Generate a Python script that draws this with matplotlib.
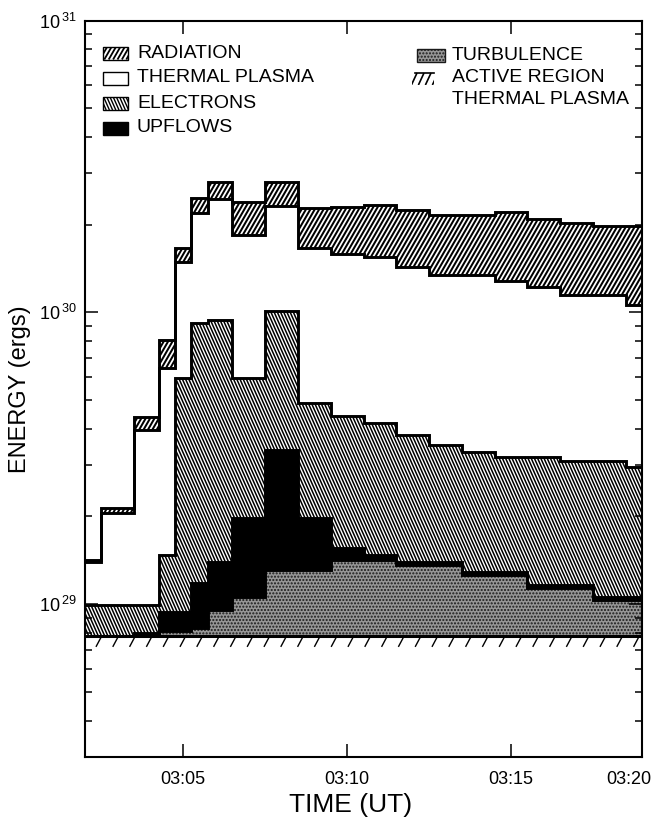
import numpy as np
import matplotlib
matplotlib.use("Agg")
import matplotlib.pyplot as plt
from matplotlib.collections import LineCollection
from matplotlib.patches import Rectangle
from matplotlib.transforms import IdentityTransform, ScaledTranslation
from matplotlib.ticker import LogLocator, NullFormatter, NullLocator, FuncFormatter

plt.rcParams["font.family"] = ["Liberation Sans", "DejaVu Sans"]
plt.rcParams["mathtext.fontset"] = "custom"
plt.rcParams["mathtext.rm"] = "Liberation Sans"

# time bin edges, minutes after 03:00 UT
edges = [2.0, 2.5, 3.5, 4.25, 4.75, 5.25, 5.75, 6.5, 7.5, 8.5, 9.5,
         10.5, 11.5, 12.5, 13.5, 14.5, 15.5, 16.5, 17.5, 18.5, 19.0]
# energies in units of 1e28 erg
active = 7.8
turbulence = [0, 0, 0, 0.28, 0.3, 0.5, 1.74, 2.77, 5.28, 5.28, 6.35, 6.35,
              5.8, 5.8, 4.77, 4.77, 3.55, 3.55, 2.52, 2.52]
upflows = [0, 0, 0.2, 1.31, 1.29, 3.5, 4.39, 9.15, 20.65, 6.64, 1.41, 0.58,
           0.33, 0.33, 0.31, 0.31, 0.27, 0.27, 0.25, 0.25]
electrons = [2.12, 2.12, 1.92, 5.34, 50.2, 80.2, 80.3, 39.9, 67.3, 29.3, 28.6,
             27.1, 24.1, 21.2, 20.3, 19.0, 20.3, 19.3, 20.3, 18.9]
thermal = [4.0, 10.6, 29.6, 49.8, 89.4, 127, 150.8, 124.4, 131, 117, 114.8,
           113.2, 105, 99.5, 101.4, 96.1, 90.1, 83.9, 83.9, 76.5]
radiation = [0.3, 0.8, 4.3, 16, 17, 28, 35, 54, 48, 62, 71, 79, 82, 81.4,
             81.4, 93, 87, 88.2, 83.2, 92]
tick_times = [5, 10, 15, 19]
tick_labels = ["03:05", "03:10", "03:15", "03:20"]

unit = 1e28
n = len(turbulence)
base = np.full(n, active) * unit
t1 = base + np.array(turbulence) * unit
t2 = t1 + np.array(upflows) * unit
t3 = t2 + np.array(electrons) * unit
t4 = t3 + np.array(thermal) * unit
t5 = t4 + np.array(radiation) * unit

W, H = 656, 825
fig = plt.figure(figsize=(W / 100, H / 100), dpi=100)
ax = fig.add_axes([85 / W, 1 - 757 / H, (642 - 85) / W, (757 - 20.5) / H])
ax.set_yscale("log")
ax.set_xlim(2, 19)
ax.set_ylim(3e28, 1e31)


def hatch(clip, box, angle, spacing, lw, where=None):
    x0, y0, x1, y1 = box
    d = (y1 - y0) / np.tan(np.radians(abs(angle)))
    xs = np.arange(x0 - d - spacing, x1 + spacing, spacing)
    if angle > 0:
        segs = [[(x, y0), (x + d, y1)] for x in xs]
    else:
        segs = [[(x, y1), (x + d, y0)] for x in xs]
    lc = LineCollection(segs, colors="k", linewidths=lw,
                        transform=IdentityTransform(), zorder=2 if where is None else 6)
    lc.set_clip_path(clip)
    if where is None:
        ax.add_collection(lc, autolim=False)
    else:
        fig.add_artist(lc)


axbox = ax.bbox.extents
stip_face, stip_edge = "#969696", "#1a1a1a"

# turbulence
ax.stairs(t1, edges, baseline=base, fill=True, facecolor=stip_face,
          edgecolor=stip_edge, hatch=".....", lw=0, zorder=1)
# upflows
ax.stairs(t2, edges, baseline=t1, fill=True, color="k", zorder=1)
# electrons
p_el = ax.stairs(t3, edges, baseline=t2, fill=True, facecolor="white", lw=0, zorder=1)
hatch(p_el, axbox, -66, 3.2, 1.1)
# thermal plasma
ax.stairs(t4, edges, baseline=t3, fill=True, facecolor="white", lw=0, zorder=1)
# radiation
p_rad = ax.stairs(t5, edges, baseline=t4, fill=True, facecolor="white", lw=0, zorder=1)
hatch(p_rad, axbox, 60, 4.4, 1.45)

for top in [t1, t2, t3, t4, t5]:
    ax.stairs(top, edges, baseline=None, color="k", lw=2.1, zorder=3)
ax.axhline(active * unit, color="k", lw=2.2, zorder=3)

# active region marks below the line
yl = ax.transData.transform((2, active * unit))[1]
ar_clip = Rectangle((axbox[0], yl - 11), axbox[2] - axbox[0], 11,
                    transform=IdentityTransform())
hatch(ar_clip, (axbox[0], yl - 11, axbox[2], yl), 62, 16.8, 1.0)

# axes styling
for s in ax.spines.values():
    s.set_linewidth(1.5)
ax.set_xticks(tick_times)
ax.set_xticklabels(tick_labels)
ax.xaxis.set_minor_locator(NullLocator())
ax.yaxis.set_major_locator(LogLocator(base=10))
ax.yaxis.set_minor_locator(LogLocator(base=10, subs=np.arange(2, 10)))
ax.yaxis.set_minor_formatter(NullFormatter())
ax.yaxis.set_major_formatter(FuncFormatter(
    lambda v, p: r"$\mathregular{10^{\,%d}}$" % round(np.log10(v))))
ax.tick_params(which="both", direction="in", top=True, right=True, width=1.1)
ax.tick_params(which="major", length=9.5)
ax.tick_params(which="minor", length=5)
ax.tick_params(axis="x", labelsize=13, pad=10)
ax.tick_params(axis="y", labelsize=13, pad=6)
lab = ax.get_xticklabels()[-1]
lab.set_transform(lab.get_transform() + ScaledTranslation(-0.13, 0, fig.dpi_scale_trans))
ax.set_xlabel("TIME (UT)", fontsize=19, labelpad=4)
ax.xaxis.label.set_x(0.476)
ax.set_ylabel("ENERGY (ergs)", fontsize=17, labelpad=6)

# legend
fs = 14
left_rows = [("RADIATION", 53), ("THERMAL PLASMA", 78), ("ELECTRONS", 103.5), ("UPFLOWS", 128)]
for name, y in left_rows:
    r = Rectangle((103, H - y - 6.5), 25, 13, transform=IdentityTransform(),
                  facecolor="k" if name == "UPFLOWS" else "white",
                  edgecolor="k", lw=1.0, zorder=5)
    fig.add_artist(r)
    if name == "RADIATION":
        hatch(r, (103, H - y - 6.5, 128, H - y + 6.5), 60, 4.4, 1.3, where="fig")
    if name == "ELECTRONS":
        hatch(r, (103, H - y - 6.5, 128, H - y + 6.5), -66, 3.2, 1.0, where="fig")
    fig.text(137 / W, 1 - y / H, name, va="center", ha="left", fontsize=fs)

r = Rectangle((417, H - 55 - 6.5), 28, 13, transform=IdentityTransform(),
              facecolor=stip_face, edgecolor=stip_edge, hatch=".....", lw=1.0, zorder=5)
fig.add_artist(r)
fig.text(452 / W, 1 - 55 / H, "TURBULENCE", va="center", ha="left", fontsize=fs)
r2 = Rectangle((412, H - 85), 22, 13, transform=IdentityTransform())
hatch(r2, (410, H - 85, 436, H - 73), 65, 7, 1.2, where="fig")
fig.add_artist(plt.Line2D([415, 434], [H - 73, H - 73], color="k", lw=1.2,
                          transform=IdentityTransform()))
fig.text(452 / W, 1 - 78 / H, "ACTIVE REGION", va="center", ha="left", fontsize=fs)
fig.text(452 / W, 1 - 100 / H, "THERMAL PLASMA", va="center", ha="left", fontsize=fs)

fig.savefig("out.png", dpi=100)
